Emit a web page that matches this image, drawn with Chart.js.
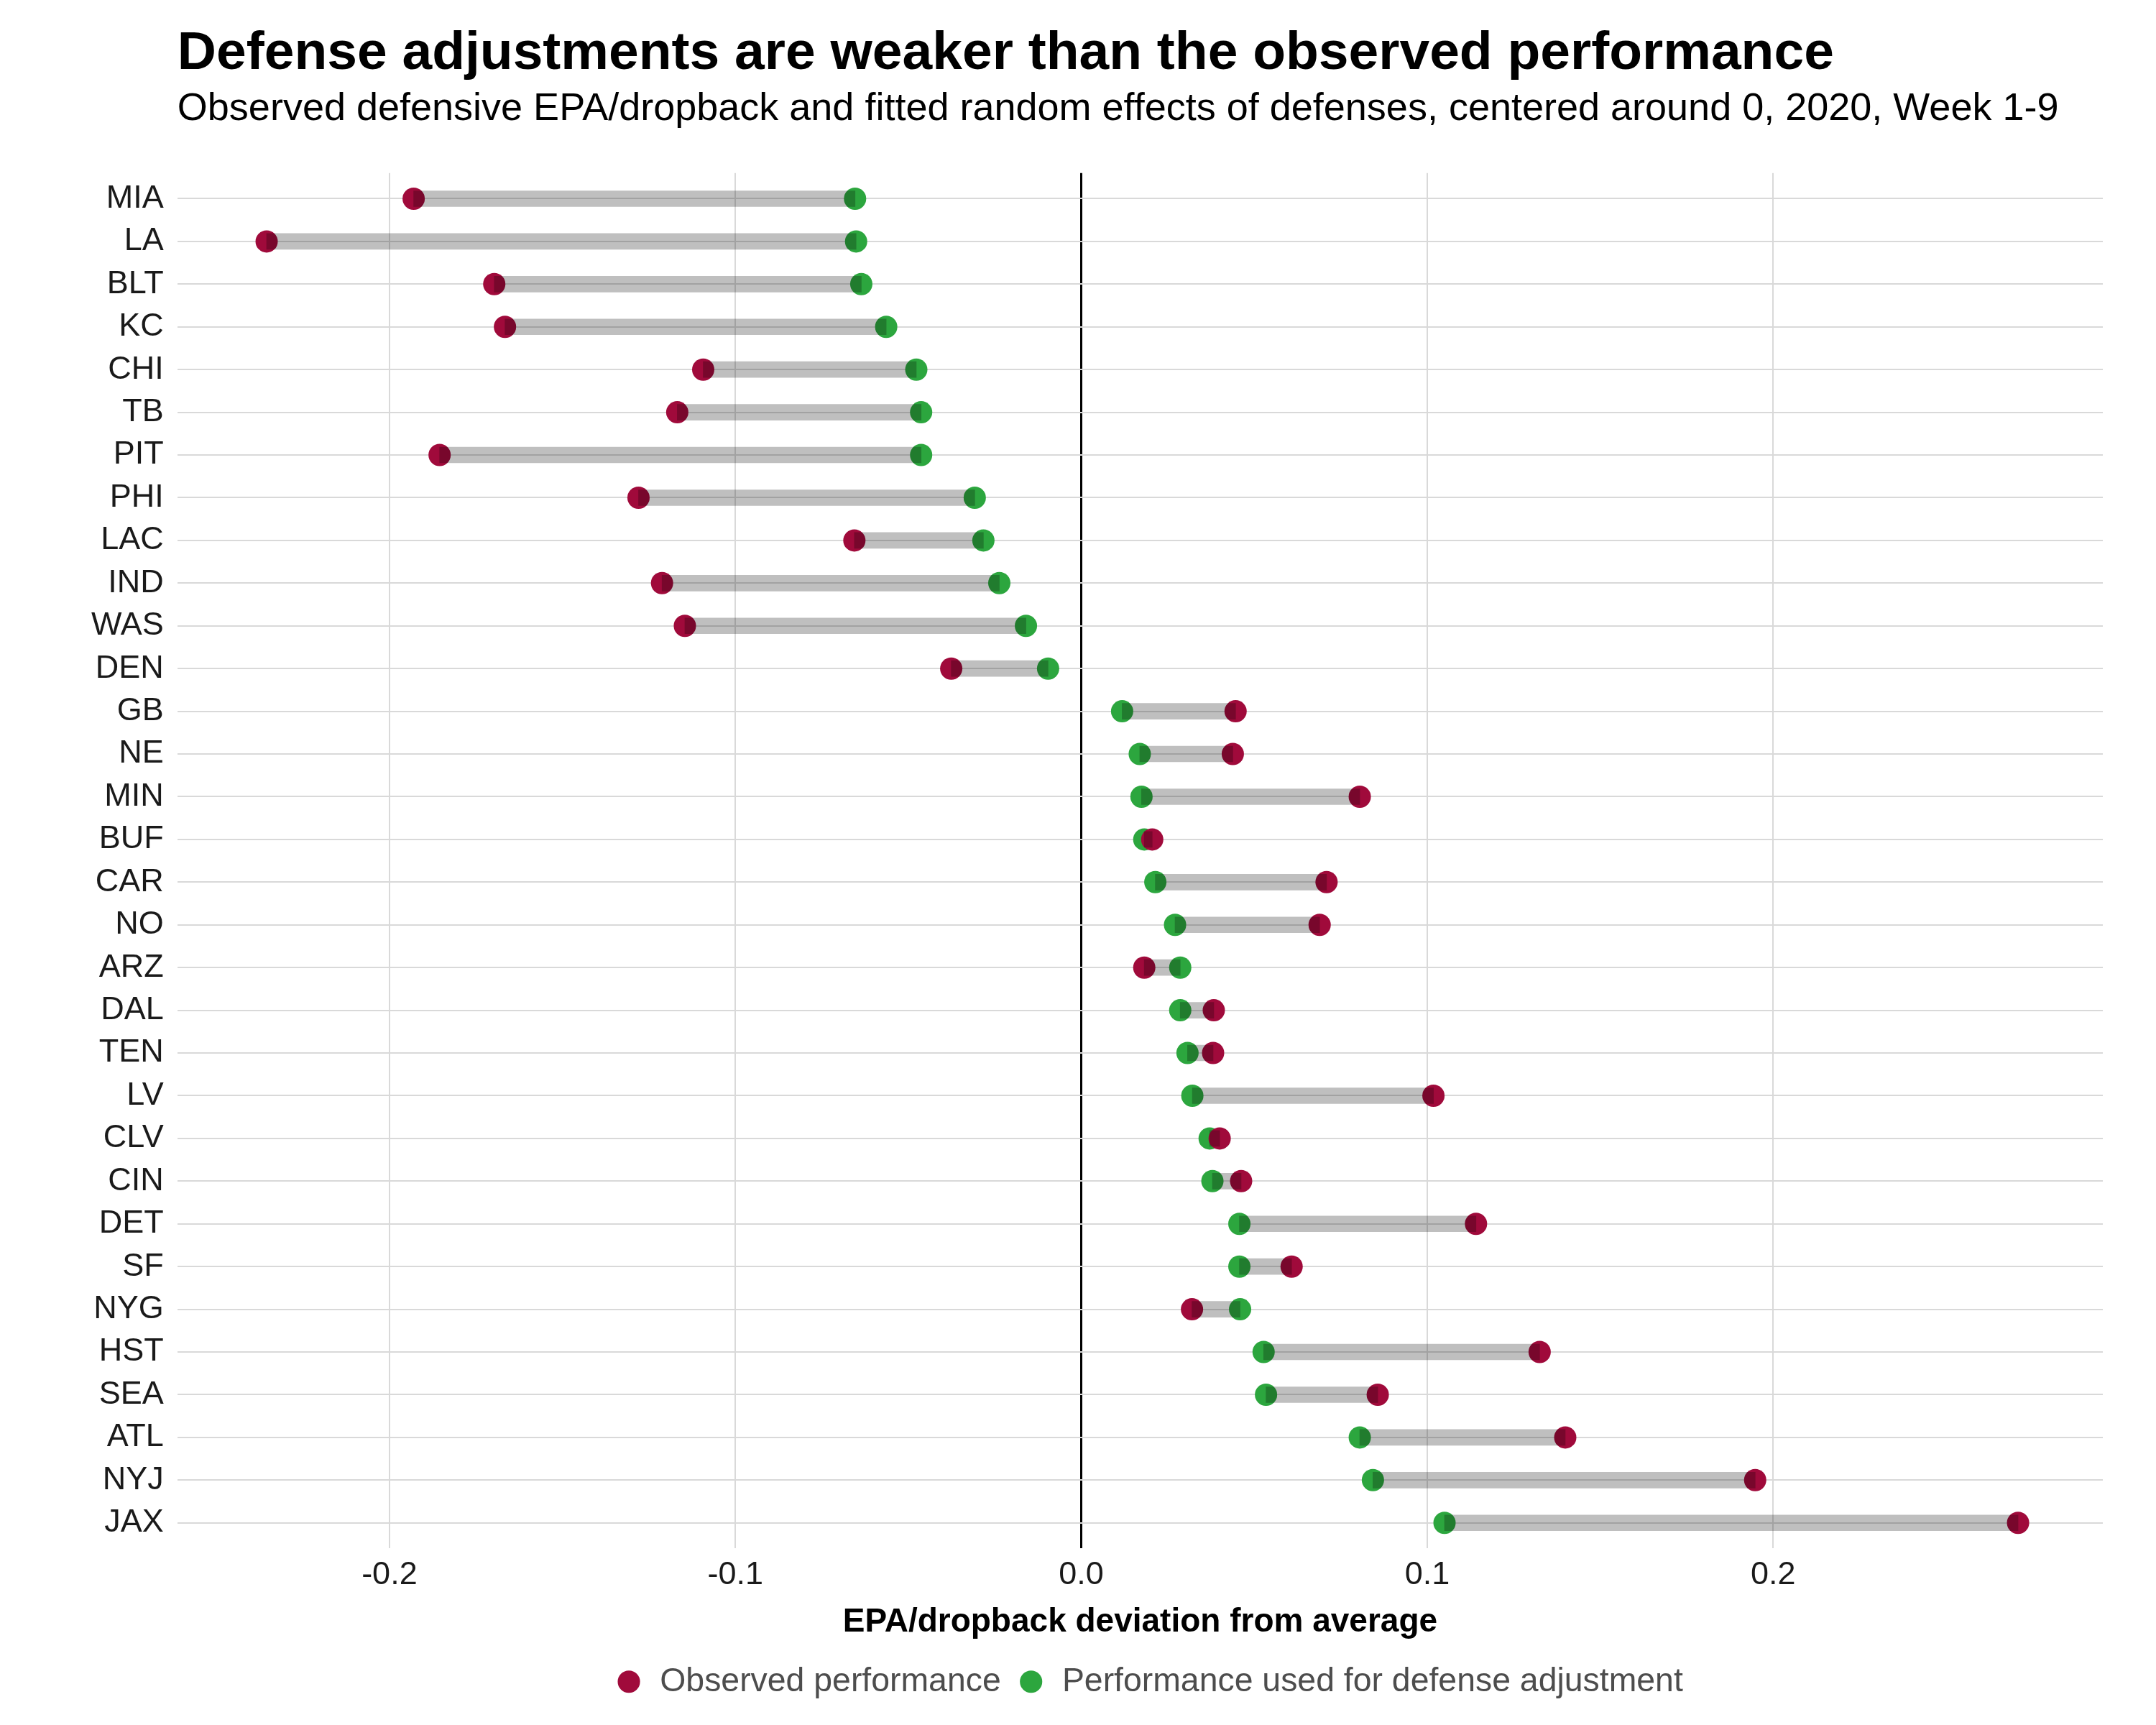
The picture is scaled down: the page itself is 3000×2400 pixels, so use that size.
<!DOCTYPE html>
<html>
<head>
<meta charset="utf-8">
<script src="https://cdn.jsdelivr.net/npm/chart.js@4.4.1/dist/chart.umd.min.js"></script>
<style>
html,body{margin:0;padding:0;background:#ffffff;}
canvas{display:block;}
</style>
</head>
<body>
<canvas id="chart" width="3000" height="2400" style="width:3000px;height:2400px"></canvas>
<script>
// ---- Data ----
const teams = ['MIA','LA','BLT','KC','CHI','TB','PIT','PHI','LAC','IND','WAS','DEN','GB','NE','MIN','BUF','CAR','NO','ARZ','DAL','TEN','LV','CLV','CIN','DET','SF','NYG','HST','SEA','ATL','NYJ','JAX'];
const observed = [-0.1930,-0.2355,-0.1697,-0.1666,-0.1093,-0.1168,-0.1855,-0.1280,-0.0656,-0.1212,-0.1146,-0.0376,0.0446,0.0438,0.0805,0.0205,0.0709,0.0689,0.0182,0.0383,0.0381,0.1018,0.0400,0.0462,0.1141,0.0608,0.0320,0.1325,0.0857,0.1399,0.1948,0.2708];
const adjusted = [-0.0654,-0.0651,-0.0636,-0.0564,-0.0477,-0.0463,-0.0463,-0.0308,-0.0283,-0.0237,-0.0160,-0.0096,0.0118,0.0169,0.0174,0.0182,0.0214,0.0271,0.0286,0.0286,0.0307,0.0321,0.0371,0.0379,0.0457,0.0457,0.0459,0.0527,0.0534,0.0805,0.0843,0.1050];
const xTicks = [-0.2, -0.1, 0.0, 0.1, 0.2];
const seriesNames = ['Observed performance', 'Performance used for defense adjustment'];
const titleText = 'Defense adjustments are weaker than the observed performance';
const subtitleText = 'Observed defensive EPA/dropback and fitted random effects of defenses, centered around 0, 2020, Week 1-9';
const xAxisTitle = 'EPA/dropback deviation from average';

// ---- Chart ----
Chart.defaults.font.family = "'Liberation Sans', Arial, sans-serif";
const ctx = document.getElementById('chart').getContext('2d');

// nudges the legend block slightly right, as in the reference layout
const legendShift = {
  id: 'legendShift',
  afterLayout(chart) {
    const l = chart.legend;
    if (l) { l.left += 12; l.right += 12; }
  }
};

new Chart(ctx, {
  type: 'scatter',
  data: {
    datasets: [
      {
        type: 'bar',
        label: 'range',
        indexAxis: 'y',
        data: teams.map((t, i) => ({ y: i, x: [adjusted[i], observed[i]] })),
        backgroundColor: 'rgba(0,0,0,0.25)',
        borderWidth: 0,
        borderSkipped: false,
        barThickness: 22,
        order: 0
      },
      {
        type: 'scatter',
        label: seriesNames[0],
        data: teams.map((t, i) => ({ x: observed[i], y: i })),
        backgroundColor: '#A00A3B',
        borderWidth: 0,
        pointRadius: 15.5,
        pointStyle: 'circle',
        order: 1
      },
      {
        type: 'scatter',
        label: seriesNames[1],
        data: teams.map((t, i) => ({ x: adjusted[i], y: i })),
        backgroundColor: '#2CA63E',
        borderWidth: 0,
        pointRadius: 15.5,
        pointStyle: 'circle',
        order: 2
      }
    ]
  },
  plugins: [legendShift],
  options: {
    responsive: false,
    animation: false,
    events: [],
    devicePixelRatio: 1,
    layout: { padding: { left: 108, right: 74, top: 0, bottom: 27 } },
    scales: {
      x: {
        type: 'linear',
        position: 'bottom',
        min: -0.2613,
        max: 0.2953,
        bounds: 'data',
        offset: false,
        afterBuildTicks: (axis) => { axis.ticks = xTicks.map(v => ({ value: v })); },
        ticks: {
          callback: (v) => Number(v).toFixed(1),
          font: { size: 45 },
          color: '#1A1A1A',
          padding: 10,
          maxRotation: 0,
          autoSkip: false
        },
        grid: {
          offset: false,
          drawTicks: false,
          color: (c) => (c.tick && c.tick.value === 0 ? '#000000' : '#D9D9D9'),
          lineWidth: (c) => (c.tick && c.tick.value === 0 ? 3 : 2)
        },
        border: { display: false },
        title: {
          display: true,
          text: xAxisTitle,
          font: { size: 46, weight: 'bold' },
          color: '#000000',
          padding: { top: 1, bottom: 10 }
        }
      },
      y: {
        type: 'linear',
        position: 'left',
        reverse: true,
        min: -0.6,
        max: 31.6,
        bounds: 'data',
        offset: false,
        afterBuildTicks: (axis) => { axis.ticks = teams.map((t, i) => ({ value: i })); },
        ticks: {
          callback: (v) => (teams[v] !== undefined ? teams[v] : ''),
          font: { size: 45 },
          color: '#1A1A1A',
          padding: 19,
          autoSkip: false
        },
        grid: {
          offset: false,
          drawTicks: false,
          color: '#D9D9D9',
          lineWidth: 2
        },
        border: { display: false }
      }
    },
    plugins: {
      tooltip: { enabled: false },
      title: {
        display: true,
        text: titleText,
        align: 'start',
        fullSize: false,
        color: '#000000',
        font: { size: 75, weight: 'bold' },
        padding: { top: 30, bottom: 0 }
      },
      subtitle: {
        display: true,
        text: subtitleText,
        align: 'start',
        fullSize: false,
        color: '#000000',
        font: { size: 54, weight: 'normal' },
        padding: { top: 0, bottom: 56 }
      },
      legend: {
        display: true,
        position: 'bottom',
        fullSize: false,
        labels: {
          usePointStyle: true,
          boxWidth: 40,
          boxHeight: 22,
          padding: 22,
          color: '#4D4D4D',
          font: { size: 46.4 },
          filter: (item) => item.datasetIndex !== 0
        }
      }
    }
  }
});
</script>
</body>
</html>
